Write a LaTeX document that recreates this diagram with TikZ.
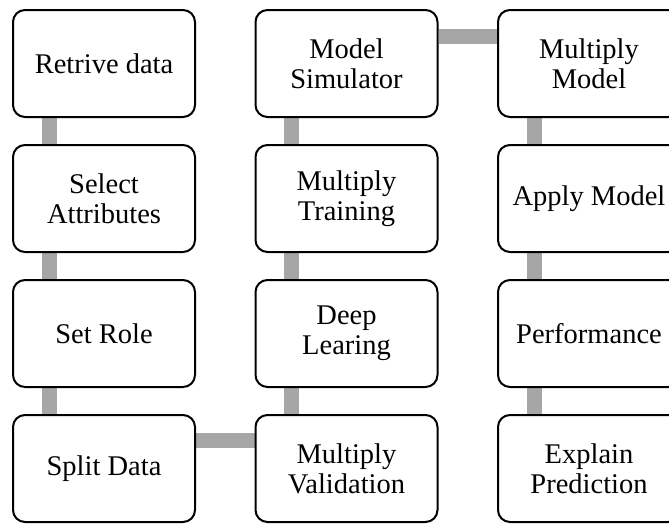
\documentclass[tikz,border=0pt]{standalone}
\usepackage{fontspec}
\setmainfont{Liberation Serif}
\usetikzlibrary{backgrounds}
\definecolor{barc}{RGB}{166,166,166}
\tikzset{
  box/.style={draw=black, line width=2pt, fill=white, rounded corners=12pt,
    minimum width=182pt, minimum height=107pt, inner sep=0pt, align=center,
    font=\fontsize{28.5}{30}\selectfont},
  bar/.style={draw=barc, line width=15pt}
}
\begin{document}
\begin{tikzpicture}[x=1pt,y=-1pt]
\useasboundingbox (0,0) rectangle (669,523);
\clip (0,0) rectangle (669,523);
% column 1
\node[box] (rd) at (104,63.5) {Retrive data};
\node[box] (sa) at (104,198.5) {Select\\Attributes};
\node[box] (sr) at (104,333.5) {Set Role};
\node[box] (sd) at (104,468.5) {Split Data};
% column 2
\node[box] (ms) at (346.5,63.5) {Model\\Simulator};
\node[box] (mt) at (346.5,198.5) {Multiply\\Training};
\node[box] (dl) at (346.5,333.5) {Deep\\Learing};
\node[box] (mv) at (346.5,468.5) {Multiply\\Validation};
% column 3
\node[box] (mm) at (589,63.5) {Multiply\\Model};
\node[box] (am) at (589,198.5) {Apply Model};
\node[box] (pf) at (589,333.5) {Performance};
\node[box] (ep) at (589,468.5) {Explain\\Prediction};
\begin{scope}[on background layer]
\draw[bar] ([xshift=37pt]rd.south west) -- ([xshift=37pt]sa.north west);
\draw[bar] ([xshift=37pt]sa.south west) -- ([xshift=37pt]sr.north west);
\draw[bar] ([xshift=37pt]sr.south west) -- ([xshift=37pt]sd.north west);
\draw[bar] ([yshift=-26pt]sd.north east) -- ([yshift=-26pt]mv.north west);
\draw[bar] ([xshift=37pt]mv.north west) -- ([xshift=37pt]dl.south west);
\draw[bar] ([xshift=37pt]dl.north west) -- ([xshift=37pt]mt.south west);
\draw[bar] ([xshift=37pt]mt.north west) -- ([xshift=37pt]ms.south west);
\draw[bar] ([yshift=-27pt]ms.north east) -- ([yshift=-27pt]mm.north west);
\draw[bar] ([xshift=37pt]mm.south west) -- ([xshift=37pt]am.north west);
\draw[bar] ([xshift=37pt]am.south west) -- ([xshift=37pt]pf.north west);
\draw[bar] ([xshift=37pt]pf.south west) -- ([xshift=37pt]ep.north west);
\end{scope}
\end{tikzpicture}
\end{document}
